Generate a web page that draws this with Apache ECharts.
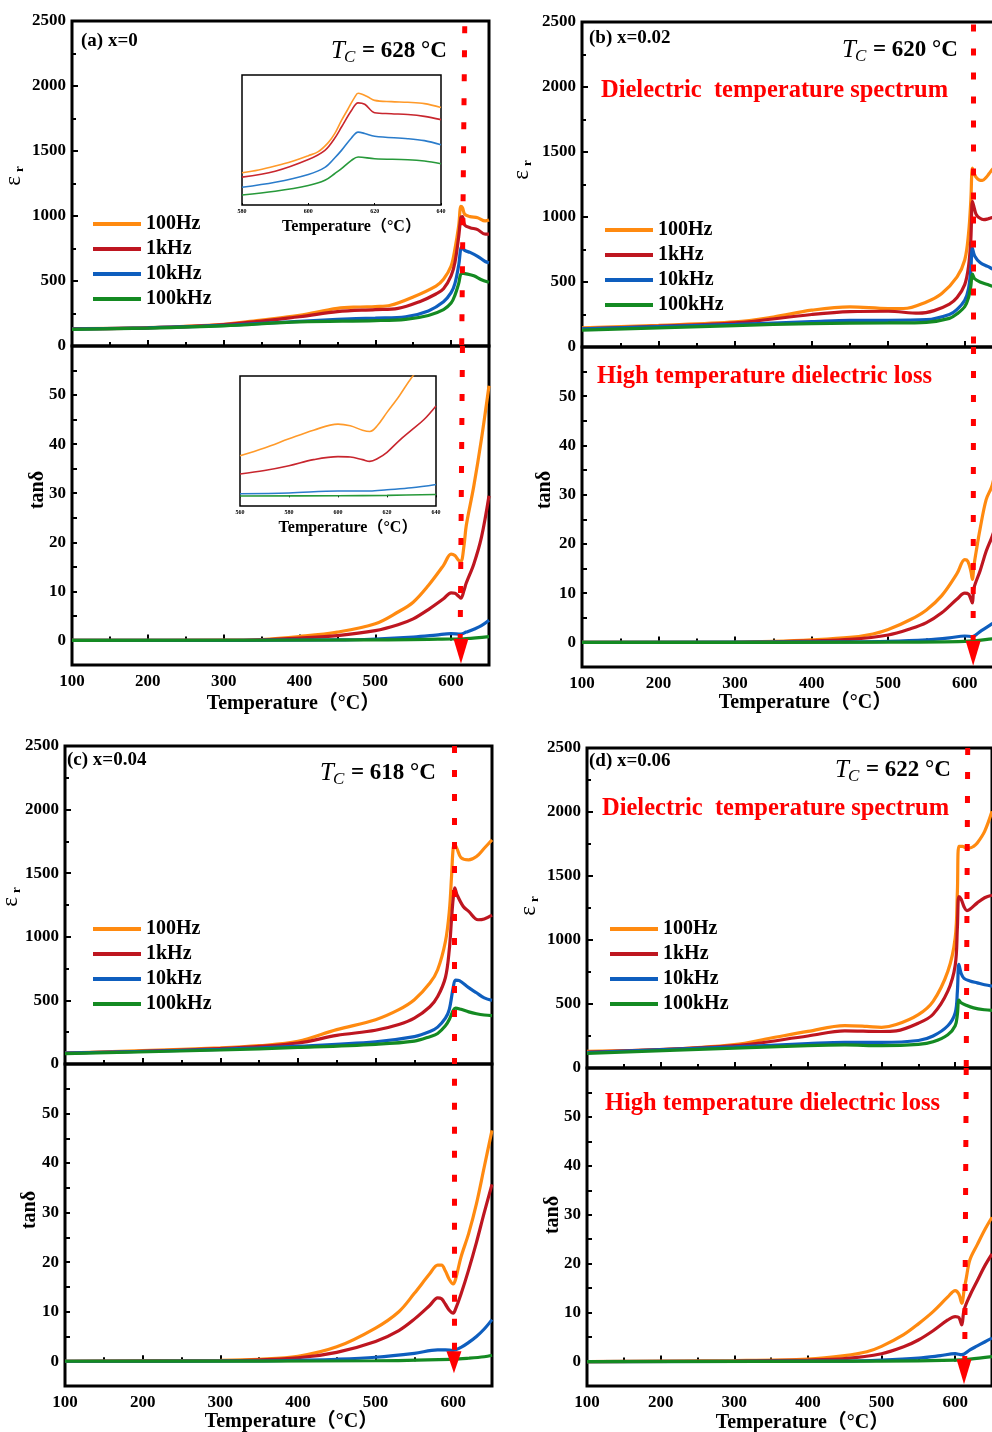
<!DOCTYPE html>
<html>
<head>
<meta charset="utf-8">
<script src="https://cdn.jsdelivr.net/npm/echarts@6/dist/echarts.min.js"></script>
<style>
  html, body { margin: 0; padding: 0; background: #fff; }
  #main { width: 992px; height: 1432px; }
</style>
</head>
<body>
<div id="main"></div>
<script>
// ---- data: [temperature (°C), value] ----
var freqNames = ['100Hz', '1kHz', '10kHz', '100kHz'];

// (a) x=0
var aEr100  = [[100,133],[200,141],[300,167],[350,200],[400,236],[450,290],[480,300],[500,303],[520,313],[550,377],[580,461],[590,513],[600,615],[605,744],[610,923],[613,1075],[615,1064],[618,1013],[625,995],[635,987],[645,962],[650,969]];
var aEr1k   = [[100,133],[200,140],[300,165],[400,225],[450,265],[500,280],[530,290],[560,345],[580,400],[590,440],[600,540],[605,640],[610,840],[613,990],[615,995],[618,930],[625,910],[635,895],[645,860],[650,860]];
var aEr10k  = [[100,130],[200,140],[300,158],[400,190],[450,205],[500,215],[540,225],[570,270],[590,340],[600,410],[605,480],[610,620],[614,760],[618,735],[625,720],[635,690],[645,650],[650,640]];
var aEr100k = [[100,128],[200,138],[300,155],[400,185],[500,195],[540,205],[570,235],[590,280],[600,330],[605,390],[610,480],[614,560],[620,555],[630,540],[640,510],[650,490]];
var aTan100  = [[100,0],[300,0.05],[350,0.2],[400,0.8],[450,1.7],[500,3.4],[530,5.8],[550,7.8],[570,11.2],[590,15.3],[600,17.6],[605,17.3],[610,16.3],[613,16.1],[617,19.3],[620,23.4],[630,31.5],[640,41],[650,51.9]];
var aTan1k   = [[100,0],[300,0.03],[350,0.15],[400,0.5],[450,1.0],[500,2.0],[530,3.2],[550,4.4],[570,6.3],[590,8.5],[600,9.7],[605,9.6],[610,9.0],[613,8.6],[617,10.2],[620,11.7],[630,15.6],[640,21],[650,29.5]];
var aTan10k  = [[100,0],[450,0.1],[500,0.3],[550,0.7],[580,1.1],[600,1.4],[613,1.3],[620,1.7],[630,2.3],[640,3.0],[650,4.1]];
var aTan100k = [[100,0],[500,0.1],[600,0.3],[620,0.4],[650,0.8]];

// (a) insets
var insEr100  = [[580,475],[585,497],[590,527],[595,562],[600,606],[603,636],[606,705],[608,775],[610,874],[612,963],[614,1052],[615,1081],[616,1076],[618,1052],[620,1027],[625,1017],[630,1012],[635,1002],[640,972]];
var insEr1k   = [[580,442],[590,487],[600,576],[605,646],[608,740],[610,824],[613,950],[615,1008],[617,997],[620,933],[625,925],[630,919],[635,905],[640,880]];
var insEr10k  = [[580,365],[590,403],[600,463],[605,517],[608,590],[610,646],[613,740],[615,785],[617,775],[620,753],[630,735],[635,720],[640,689]];
var insEr100k = [[580,306],[590,335],[600,379],[605,418],[608,470],[610,507],[613,570],[615,596],[620,582],[630,575],[635,565],[640,544]];
var insTan100  = [[560,9.6],[570,11.4],[580,13.5],[590,15.5],[600,16.9],[605,16.5],[610,15.5],[613,15.2],[616,16.5],[620,19.6],[625,23.4],[630,27.6],[635,31]];
var insTan1k   = [[560,5.4],[570,6.2],[580,7.3],[590,8.7],[600,9.4],[605,9.3],[610,8.7],[613,8.3],[616,8.9],[620,10.4],[625,13.1],[630,15.5],[635,17.9],[640,21.1]];
var insTan10k  = [[560,0.82],[580,1.0],[600,1.45],[613,1.45],[620,1.75],[630,2.2],[640,2.98]];
var insTan100k = [[560,0.3],[600,0.37],[620,0.46],[640,0.67]];

// (b) x=0.02
var bEr100  = [[100,147],[200,167],[300,193],[350,231],[400,283],[450,309],[500,296],[520,296],[550,347],[570,412],[590,540],[600,669],[605,874],[608,1132],[610,1376],[612,1340],[615,1305],[619,1285],[623,1282],[628,1305],[632,1335],[636,1365],[643,1410],[650,1450]];
var bEr1k   = [[100,140],[200,160],[300,185],[400,250],[450,272],[500,275],[540,260],[560,280],[580,330],[590,380],[600,480],[605,620],[608,830],[610,1120],[612,1080],[615,1020],[620,990],[625,980],[630,985],[636,995],[650,1010]];
var bEr10k  = [[100,140],[300,175],[400,195],[450,205],[500,205],[550,210],[580,250],[590,290],[600,360],[605,450],[608,600],[610,760],[613,700],[620,650],[630,620],[640,590],[650,570]];
var bEr100k = [[100,130],[300,165],[400,180],[500,185],[550,190],[580,220],[590,255],[600,310],[605,380],[608,470],[610,560],[613,525],[620,500],[630,480],[640,460],[650,450]];
var bTan100  = [[100,0],[300,0.05],[350,0.2],[400,0.5],[450,1.0],[480,1.7],[500,2.6],[530,4.7],[550,6.6],[570,9.5],[590,14],[600,16.8],[604,16.5],[608,14.5],[610,12.8],[612,15.5],[615,18.5],[620,23],[628,29],[636,32],[650,42]];
var bTan1k   = [[100,0],[300,0.03],[350,0.1],[400,0.3],[450,0.6],[500,1.5],[530,2.8],[550,4.0],[570,6.0],[590,8.8],[600,10.0],[605,9.8],[608,8.8],[610,8.0],[612,11],[620,14.5],[628,18.5],[636,21.6],[650,28]];
var bTan10k  = [[100,0],[450,0.1],[500,0.2],[550,0.5],[580,0.9],[600,1.3],[610,1.2],[620,2.2],[636,3.8],[650,5.5]];
var bTan100k = [[100,0],[500,0.05],[600,0.2],[636,0.7],[650,1.0]];

// (c) x=0.04
var cEr100  = [[100,86],[200,105],[300,126],[350,144],[400,178],[450,270],[500,348],[530,427],[550,505],[570,636],[580,741],[590,963],[595,1199],[598,1487],[600,1696],[602,1723],[605,1691],[610,1623],[620,1605],[630,1631],[640,1696],[650,1762]];
var cEr1k   = [[100,86],[300,122],[400,165],[450,225],[500,265],[530,310],[550,360],[570,450],[580,530],[590,680],[595,900],[598,1150],[600,1300],[602,1385],[605,1330],[613,1238],[620,1200],[632,1134],[640,1140],[650,1170]];
var cEr10k  = [[100,85],[300,115],[400,140],[500,175],[550,215],[570,255],[580,290],[590,360],[595,430],[600,600],[603,660],[608,655],[620,600],[630,560],[640,520],[650,500]];
var cEr100k = [[100,82],[300,110],[400,130],[500,155],[550,180],[570,215],[580,240],[590,300],[595,350],[600,420],[603,440],[610,430],[620,410],[630,395],[640,385],[650,380]];
var cTan100  = [[100,0],[300,0.2],[350,0.4],[400,1.0],[450,2.9],[500,6.7],[530,10],[550,13.7],[570,17.7],[580,19.4],[585,19.4],[590,18.2],[595,16.5],[600,15.6],[603,16.5],[610,21],[620,25.8],[630,31.8],[640,39.2],[650,46.6]];
var cTan1k   = [[100,0],[300,0.1],[400,0.7],[450,1.8],[500,4.0],[530,6.2],[550,8.5],[570,11.3],[580,12.8],[585,12.6],[590,11.5],[595,10.3],[600,9.7],[603,10.5],[610,13.5],[620,18.5],[630,24],[640,30],[650,35.7]];
var cTan10k  = [[100,0],[350,0.05],[400,0.2],[450,0.4],[500,0.8],[550,1.6],[580,2.3],[590,2.3],[600,2.2],[610,2.8],[620,3.8],[630,5.0],[640,6.5],[650,8.4]];
var cTan100k = [[100,0],[500,0.1],[600,0.4],[620,0.6],[640,0.9],[650,1.2]];

// (d) x=0.06
var dEr100  = [[100,130],[200,143],[300,182],[350,234],[400,286],[450,331],[480,325],[500,318],[520,339],[550,417],[570,521],[590,755],[600,1016],[603,1380],[605,1732],[610,1732],[615,1719],[620,1719],[625,1732],[630,1758],[640,1849],[650,2005]];
var dEr1k   = [[100,125],[300,175],[400,250],[450,290],[500,285],[520,290],[550,350],[570,420],[590,600],[600,800],[603,1100],[605,1340],[608,1320],[612,1260],[616,1230],[620,1240],[630,1290],[640,1330],[650,1350]];
var dEr10k  = [[100,120],[300,165],[400,190],[450,200],[500,200],[550,215],[570,250],[590,330],[600,430],[603,600],[605,810],[608,740],[612,700],[620,680],[630,665],[640,650],[650,640]];
var dEr100k = [[100,115],[300,155],[400,175],[450,180],[500,175],[550,185],[570,205],[590,260],[600,330],[603,420],[605,530],[608,510],[615,490],[625,470],[640,455],[650,450]];
var dTan100  = [[100,0],[300,0.2],[400,0.5],[450,1.2],[480,2.0],[500,3.1],[530,5.5],[550,7.7],[570,10.2],[590,13.2],[600,14.5],[605,13.8],[609,11.9],[612,14.5],[615,17],[620,20.8],[630,23.9],[640,26.9],[650,29.5]];
var dTan1k   = [[100,0],[300,0.1],[400,0.3],[450,0.6],[500,1.6],[530,3.0],[550,4.4],[570,6.3],[590,8.5],[600,9.2],[605,9.0],[609,7.5],[612,10.5],[620,13.5],[630,16.5],[640,19.5],[650,22]];
var dTan10k  = [[100,0],[450,0.1],[500,0.3],[550,0.7],[580,1.2],[600,1.6],[609,1.4],[620,2.4],[630,3.2],[640,4.0],[650,4.8]];
var dTan100k = [[100,0],[500,0.1],[600,0.3],[620,0.5],[650,1.0]];

var tcLabels = ['628', '620', '618', '622'];

// ---- styling / layout ----
var SERIF = '"Liberation Serif", "Times New Roman", "Noto Sans CJK SC", serif';
var lineColors  = ['#FF8A10', '#BE1620', '#0E5EBE', '#148A22'];
var insetColors = ['#FF9A2A', '#C8262E', '#2A7CCB', '#27993A'];

var grids = [], xAxes = [], yAxes = [], series = [], legends = [], graphics = [];

function boxGrid(l, t, w, h, bw) {
  return { left: l, top: t, width: w, height: h, show: true, borderColor: '#000',
           borderWidth: bw, backgroundColor: 'transparent', outerBoundsMode: 'none', containLabel: false };
}

function tickStyle(len) {
  return { show: true, inside: true, length: len, lineStyle: { color: '#000', width: 2 } };
}

function xMain(gi, withLabels, nameGap) {
  return {
    gridIndex: gi, type: 'value', min: 100, max: 650, interval: 100,
    axisLine: { show: false }, splitLine: { show: false },
    axisTick: tickStyle(6),
    minorTick: { show: true, splitNumber: 2, length: 4, lineStyle: { color: '#000', width: 2 } },
    axisLabel: { show: withLabels, margin: 8, color: '#000', fontFamily: SERIF, fontWeight: 'bold', fontSize: 17,
      showMaxLabel: false, formatter: function (v) { return v > 600 ? '' : String(v); } },
    name: withLabels ? 'Temperature（°C）' : '', nameLocation: 'middle', nameGap: nameGap,
    nameTextStyle: { color: '#000', fontFamily: SERIF, fontWeight: 'bold', fontSize: 20, padding: [0, 0, 0, 26] }
  };
}

function lineSeries(name, gi, data, color, width) {
  return {
    name: name, type: 'line', xAxisIndex: gi, yAxisIndex: gi, data: data,
    showSymbol: false, symbol: 'none', smooth: 0.35,
    lineStyle: { color: color, width: width }, itemStyle: { color: color },
    emphasis: { disabled: true }, z: 3
  };
}

function dotted(gi, p1, p2) {
  return {
    type: 'line', xAxisIndex: gi, yAxisIndex: gi, data: [], silent: true,
    markLine: {
      silent: true, symbol: 'none', label: { show: false },
      lineStyle: { color: '#FF0000', width: 5, type: [7, 17] },
      data: [[{ coord: p1 }, { coord: p2 }]]
    }, z: 5
  };
}

function arrow(gi, pos, w, h) {
  return {
    type: 'line', xAxisIndex: gi, yAxisIndex: gi, data: [], silent: true,
    markPoint: {
      silent: true, symbol: 'triangle', symbolRotate: 180, symbolSize: [w, h],
      label: { show: false }, itemStyle: { color: '#FF0000' },
      data: [{ coord: pos }]
    }, z: 6
  };
}

// rotated (bottom-to-top) text, x/y = centre
function vText(x, y, s, font) {
  graphics.push({ type: 'text', x: x, y: y, rotation: Math.PI / 2, silent: true, z: 20,
    style: { text: s, font: font, fill: '#000', textAlign: 'center', textVerticalAlign: 'middle',
             align: 'center', verticalAlign: 'middle' } });
}

function addPanel(p) {
  var gi = grids.length;
  grids.push(boxGrid(p.left, p.top, p.width, p.hTop, 3));
  grids.push(boxGrid(p.left, p.top + p.hTop, p.width, p.hBot, 3));
  xAxes.push(xMain(gi, false, 0));
  xAxes.push(xMain(gi + 1, true, p.xNameGap));
  yAxes.push({
    gridIndex: gi, type: 'value', min: 0, max: 2500, interval: 500,
    axisLine: { show: false }, splitLine: { show: false }, axisTick: tickStyle(6),
    minorTick: { show: true, splitNumber: 2, length: 4, lineStyle: { color: '#000', width: 2 } },
    axisLabel: { margin: 6, color: '#000', fontFamily: SERIF, fontWeight: 'bold', fontSize: 17,
      formatter: function (v) { return String(v); } }
  });
  yAxes.push({
    gridIndex: gi + 1, type: 'value', min: -5, max: 60, interval: 5,
    axisLine: { show: false }, splitLine: { show: false }, axisTick: tickStyle(5),
    axisLabel: { margin: 6, color: '#000', fontFamily: SERIF, fontWeight: 'bold', fontSize: 17,
      formatter: function (v) { return (v >= 0 && v <= 50 && v % 10 === 0) ? String(v) : ''; } }
  });
  // y-axis titles: ε with subscript r, and tanδ
  vText(p.eps[0], p.eps[1], 'ε', '23px ' + SERIF);
  vText(p.eps[0] + 6, p.eps[1] - 12, 'r', 'bold 13px ' + SERIF);
  vText(p.tanName[0], p.tanName[1], 'tanδ', 'bold 20px ' + SERIF);
  p.er.forEach(function (d, k) { series.push(lineSeries(freqNames[k], gi, d, lineColors[k], 3.2)); });
  p.tan.forEach(function (d, k) { series.push(lineSeries(freqNames[k], gi + 1, d, lineColors[k], 3.2)); });
  series.push(dotted(gi, p.lineTop[0], p.lineTop[1]));
  series.push(dotted(gi + 1, p.lineBot[0], p.lineBot[1]));
  series.push(arrow(gi + 1, p.arrow, 15, p.arrowH));
  legends.push({
    orient: 'vertical', left: p.legend[0], top: p.legend[1], icon: 'rect', padding: 0,
    itemWidth: 48, itemHeight: 4, itemGap: 5, selectedMode: false,
    data: freqNames,
    textStyle: { color: '#000', fontFamily: SERIF, fontWeight: 'bold', fontSize: 20, lineHeight: 20 }
  });
}

addPanel({ left: 72, top: 21, width: 417, hTop: 325, hBot: 319, er: [aEr100, aEr1k, aEr10k, aEr100k],
  tan: [aTan100, aTan1k, aTan10k, aTan100k], eps: [14, 181], tanName: [38, 490], xNameGap: 29,
  lineTop: [[618, 2460], [614, 0]], lineBot: [[615, 60], [612, 0.5]], arrow: [613, -2.2], arrowH: 25,
  legend: [93, 214] });
addPanel({ left: 582, top: 22, width: 421, hTop: 325, hBot: 320, er: [bEr100, bEr1k, bEr10k, bEr100k],
  tan: [bTan100, bTan1k, bTan10k, bTan100k], eps: [522, 175], tanName: [545, 490], xNameGap: 26,
  lineTop: [[611.5, 2480], [611.5, 0]], lineBot: [[611.5, 60], [611, 0.5]], arrow: [611, -2.2], arrowH: 25,
  legend: [605, 220] });
addPanel({ left: 65, top: 746, width: 427, hTop: 318, hBot: 322, er: [cEr100, cEr1k, cEr10k, cEr100k],
  tan: [cTan100, cTan1k, cTan10k, cTan100k], eps: [11, 902], tanName: [30, 1210], xNameGap: 26,
  lineTop: [[601, 2500], [601, 0]], lineBot: [[601, 57], [601, 1]], arrow: [601, -0.2], arrowH: 22,
  legend: [93, 919] });
addPanel({ left: 587, top: 748, width: 405, hTop: 320, hBot: 318, er: [dEr100, dEr1k, dEr10k, dEr100k],
  tan: [dTan100, dTan1k, dTan10k, dTan100k], eps: [529, 911], tanName: [553, 1215], xNameGap: 27,
  lineTop: [[617, 2500], [615, 0]], lineBot: [[615, 60], [613, 0.5]], arrow: [612, -2.1], arrowH: 25,
  legend: [610, 919] });

// insets of panel (a)
function addInset(l, t, w, h, xmin, xmax, ymin, ymax, sets) {
  var gi = grids.length;
  grids.push(boxGrid(l, t, w, h, 1.5));
  xAxes.push({
    gridIndex: gi, type: 'value', min: xmin, max: xmax, interval: 20,
    axisLine: { show: false }, splitLine: { show: false },
    axisTick: { show: true, inside: true, length: 2, lineStyle: { color: '#000', width: 1 } },
    axisLabel: { margin: 3, color: '#000', fontFamily: SERIF, fontWeight: 'bold', fontSize: 6 },
    name: 'Temperature（°C）', nameLocation: 'middle', nameGap: 14,
    nameTextStyle: { color: '#000', fontFamily: SERIF, fontWeight: 'bold', fontSize: 16, padding: [0, 0, 0, 20] }
  });
  yAxes.push({ gridIndex: gi, type: 'value', min: ymin, max: ymax,
    axisLine: { show: false }, axisTick: { show: false }, axisLabel: { show: false }, splitLine: { show: false } });
  sets.forEach(function (d, k) { series.push(lineSeries(freqNames[k], gi, d, insetColors[k], 1.6)); });
}
addInset(242, 75, 199, 130, 580, 640, 230, 1220, [insEr100, insEr1k, insEr10k, insEr100k]);
addInset(240, 376, 196, 130, 560, 640, -2, 28, [insTan100, insTan1k, insTan10k, insTan100k]);

// ---- text annotations ----
function txt(x, y, s, font, color) {
  graphics.push({ type: 'text', x: x, y: y, silent: true, z: 20,
    style: { text: s, font: font, fill: color || '#000', textAlign: 'left', textVerticalAlign: 'middle',
             align: 'left', verticalAlign: 'middle' } });
}
function tcText(x, y, val) {
  txt(x, y, 'T', 'italic 25px ' + SERIF);
  txt(x + 13, y + 7, 'C', 'italic 17px ' + SERIF);
  txt(x + 31, y, '= ' + val + ' °C', 'bold 23px ' + SERIF);
}
var panelTitles = ['(a) x=0', '(b) x=0.02', '(c) x=0.04', '(d) x=0.06'];
txt(81, 41, panelTitles[0], 'bold 19px ' + SERIF);
txt(589, 38, panelTitles[1], 'bold 19px ' + SERIF);
txt(67, 760, panelTitles[2], 'bold 19px ' + SERIF);
txt(589, 761, panelTitles[3], 'bold 19px ' + SERIF);
tcText(331, 51, tcLabels[0]);
tcText(842, 50, tcLabels[1]);
tcText(320, 773, tcLabels[2]);
tcText(835, 770, tcLabels[3]);
var redFont = 'bold 24.5px ' + SERIF;
txt(601, 91, 'Dielectric  temperature spectrum', redFont, '#FF0000');
txt(597, 377, 'High temperature dielectric loss', redFont, '#FF0000');
txt(602, 809, 'Dielectric  temperature spectrum', redFont, '#FF0000');
txt(605, 1104, 'High temperature dielectric loss', redFont, '#FF0000');

var chart = echarts.init(document.getElementById('main'), null, { renderer: 'canvas' });
chart.setOption({
  animation: false,
  backgroundColor: '#fff',
  grid: grids,
  xAxis: xAxes,
  yAxis: yAxes,
  legend: legends,
  series: series,
  graphic: graphics
});
</script>
</body>
</html>
